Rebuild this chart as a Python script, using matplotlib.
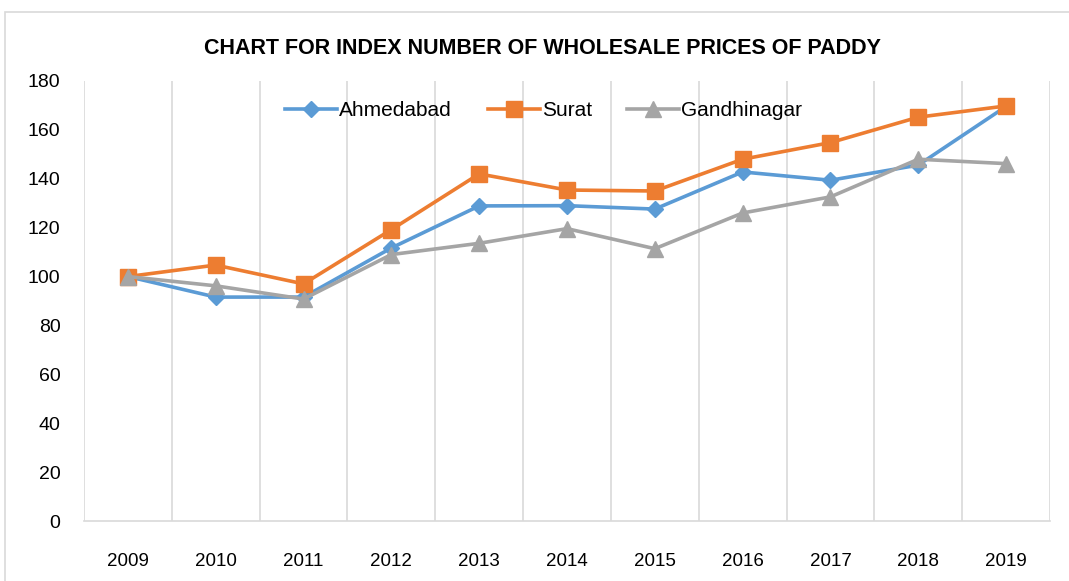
import matplotlib.pyplot as plt
from matplotlib.patches import Rectangle

years = ["2009", "2010", "2011", "2012", "2013", "2014", "2015", "2016", "2017", "2018", "2019"]
ahmedabad = [100, 91.6, 91.6, 111.7, 128.9, 129, 127.6, 142.8, 139.4, 145.6, 169.6]
surat = [100, 104.7, 97, 119.2, 142, 135.4, 135, 148, 154.8, 165.2, 169.8]
gandhinagar = [100, 96.2, 90.8, 109, 113.6, 119.6, 111.4, 126, 132.6, 148, 146.2]

seriesNames = ["Ahmedabad", "Surat", "Gandhinagar"]
seriesColors = ["#5B9BD5", "#ED7D31", "#A5A5A5"]
seriesMarkers = ["D", "s", "^"]
markerSizes = [8, 11, 11]

plt.rcParams['font.family'] = ['Liberation Sans', 'DejaVu Sans']

fig = plt.figure(figsize=(10.69, 5.81), dpi=100)
ax = fig.add_axes([84/1069, 60/581, 966/1069, 440/581])

# outer chart border (only left and top visible in the crop)
fig.patches.append(Rectangle((5/1069, -0.1), 1.2, 1.1 - 12/581, transform=fig.transFigure,
                             fill=False, edgecolor="#d9d9d9", linewidth=1.2))

x = list(range(len(years)))
for vals, name, col, mk, ms in zip([ahmedabad, surat, gandhinagar], seriesNames,
                                   seriesColors, seriesMarkers, markerSizes):
    ax.plot(x, vals, color=col, linewidth=2.6, marker=mk, markersize=ms,
            markerfacecolor=col, markeredgecolor=col, label=name, zorder=3)

ax.set_xlim(-0.5, len(years) - 0.5)
ax.set_ylim(0, 180)
ax.set_yticks(range(0, 181, 20))
ax.set_xticks(x)
ax.set_xticklabels(years)

# vertical gridlines between categories
for b in range(len(years) + 1):
    ax.axvline(b - 0.5, color="#d9d9d9", linewidth=1.2, zorder=1)

for s in ["top", "right", "left"]:
    ax.spines[s].set_visible(False)
ax.spines["bottom"].set_color("#d9d9d9")
ax.spines["bottom"].set_linewidth(1.2)
ax.tick_params(axis="x", length=0, labelsize=13.5, colors="black", pad=23)
ax.tick_params(axis="y", length=0, labelsize=14, colors="black", pad=17)

fig.text(543/1069, 1 - 48/581, "CHART FOR INDEX NUMBER OF WHOLESALE PRICES OF PADDY",
         ha="center", va="center", fontsize=15.5, fontweight="bold")

ax.legend(loc="upper center", bbox_to_anchor=(0.476, 0.997), ncol=3, frameon=False,
          fontsize=15, handlelength=2.5, columnspacing=1.7, handletextpad=0.1)

fig.savefig("out.png", dpi=100)
